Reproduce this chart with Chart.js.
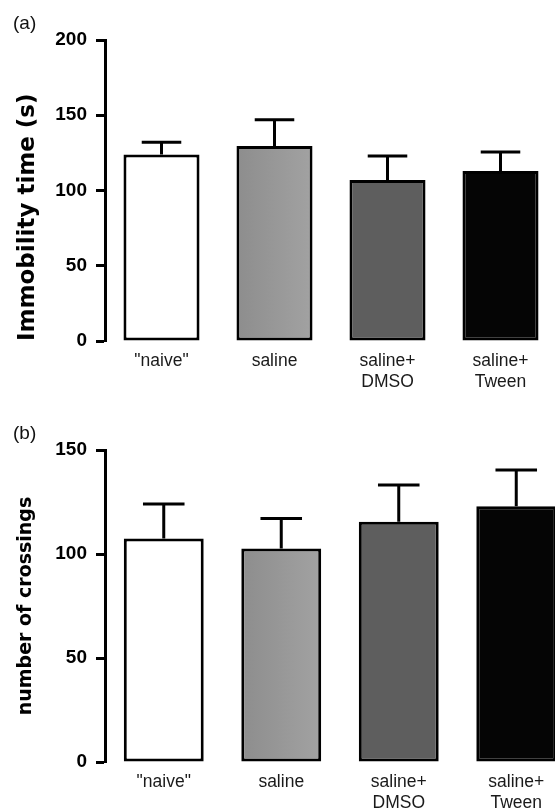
<!DOCTYPE html>
<html>
<head>
<meta charset="utf-8">
<script src="https://cdn.jsdelivr.net/npm/chart.js@4.4.0/dist/chart.umd.min.js"></script>
<style>
  body { margin: 0; background: #fff; width: 555px; height: 810px; overflow: hidden; position: relative; font-family: "Liberation Sans", Arial, sans-serif; }
  canvas { position: absolute; left: 0; }
  .tag { position: absolute; left: 13px; font-size: 19px; color: #111; }
</style>
</head>
<body>
<canvas id="chartA" width="557" height="400" style="top:0"></canvas>
<canvas id="chartB" width="575" height="410" style="top:400px"></canvas>
<div class="tag" style="top:12px">(a)</div>
<div class="tag" style="top:422px">(b)</div>
<script>
const groups = ['"naive"', 'saline', ['saline+', 'DMSO'], ['saline+', 'Tween']];
const barColors = ['#ffffff', '#979797', '#5e5e5e', '#050505'];

// (a) forced swim
const immobilityMean = [124, 129.5, 107, 113];
const immobilitySem = [8, 17.5, 16, 12.5];
// (b) open field
const crossingsMean = [107.5, 102.6, 115.5, 123];
const crossingsSem = [16.5, 14.5, 17.7, 17.4];

function errorBars(sem) {
  return {
    id: 'errorBars',
    afterDatasetsDraw(chart) {
      const ctx = chart.ctx;
      const y = chart.scales.y;
      const vals = chart.data.datasets[0].data;
      ctx.save();
      ctx.strokeStyle = '#000';
      ctx.lineWidth = 3;
      chart.getDatasetMeta(0).data.forEach((bar, i) => {
        const top = y.getPixelForValue(vals[i]);
        const tip = y.getPixelForValue(vals[i] + sem[i]);
        const half = bar.width * 0.26;
        ctx.beginPath();
        ctx.moveTo(bar.x, top);
        ctx.lineTo(bar.x, tip);
        ctx.moveTo(bar.x - half, tip);
        ctx.lineTo(bar.x + half, tip);
        ctx.stroke();
      });
      ctx.restore();
    }
  };
}

// saline bar has a faint left-to-right shading in the original
function barFill(c) {
  const i = c.dataIndex;
  if (i !== 1 || !c.element || !c.chart.chartArea) return barColors[i];
  const b = c.element.getProps(['x', 'width'], true);
  if (!isFinite(b.x)) return barColors[i];
  const g = c.chart.ctx.createLinearGradient(b.x - b.width / 2, 0, b.x + b.width / 2, 0);
  g.addColorStop(0, '#8d8d8d');
  g.addColorStop(1, '#a2a2a2');
  return g;
}

function makeChart(id, means, sem, yMax, title, titleSize, titleAlign, titlePad, padTop, xHeight, barPct) {
  return new Chart(document.getElementById(id), {
    type: 'bar',
    data: {
      labels: groups,
      datasets: [{
        data: means,
        backgroundColor: barFill,
        borderColor: '#000',
        borderWidth: 3,
        borderSkipped: false,
        barPercentage: barPct,
        categoryPercentage: 1
      }]
    },
    options: {
      responsive: false,
      animation: false,
      devicePixelRatio: 1,
      layout: { padding: { top: padTop, left: 0, right: 0, bottom: 0 } },
      plugins: { legend: { display: false }, tooltip: { enabled: false } },
      scales: {
        x: {
          grid: { display: false, drawTicks: false },
          border: { display: false },
          ticks: {
            padding: 10,
            color: '#1a1a1a',
            maxRotation: 0,
            font: { family: 'Liberation Sans', size: 17.5, lineHeight: 1.2 }
          },
          afterFit(scale) { scale.height = xHeight; }
        },
        y: {
          min: 0,
          max: yMax,
          grid: { drawOnChartArea: false, tickLength: 9, tickWidth: 3, tickColor: '#000' },
          border: { display: true, width: 3, color: '#000' },
          ticks: {
            stepSize: 50,
            padding: 9,
            color: '#000',
            font: { family: 'Liberation Sans', size: 19, weight: 'bold' }
          },
          title: {
            display: true,
            text: title,
            align: titleAlign,
            color: '#000',
            padding: { top: titlePad, bottom: 0 },
            font: { family: 'DejaVu Sans', size: titleSize, weight: 'bold', lineHeight: 1.2 }
          },
          afterFit(scale) { scale.width = 105; }
        }
      }
    },
    plugins: [errorBars(sem)]
  });
}

const chartA = makeChart('chartA', immobilityMean, immobilitySem, 200, 'Immobility time (s)', 23, 'start', 14, 40, 59, 0.673);
const chartB = makeChart('chartB', crossingsMean, crossingsSem, 150, 'number of crossings', 19, 'center', 15, 50, 48, 0.68);
// redraw once so the gradient can use the laid-out bar positions
chartA.update();
chartB.update();
</script>
</body>
</html>
